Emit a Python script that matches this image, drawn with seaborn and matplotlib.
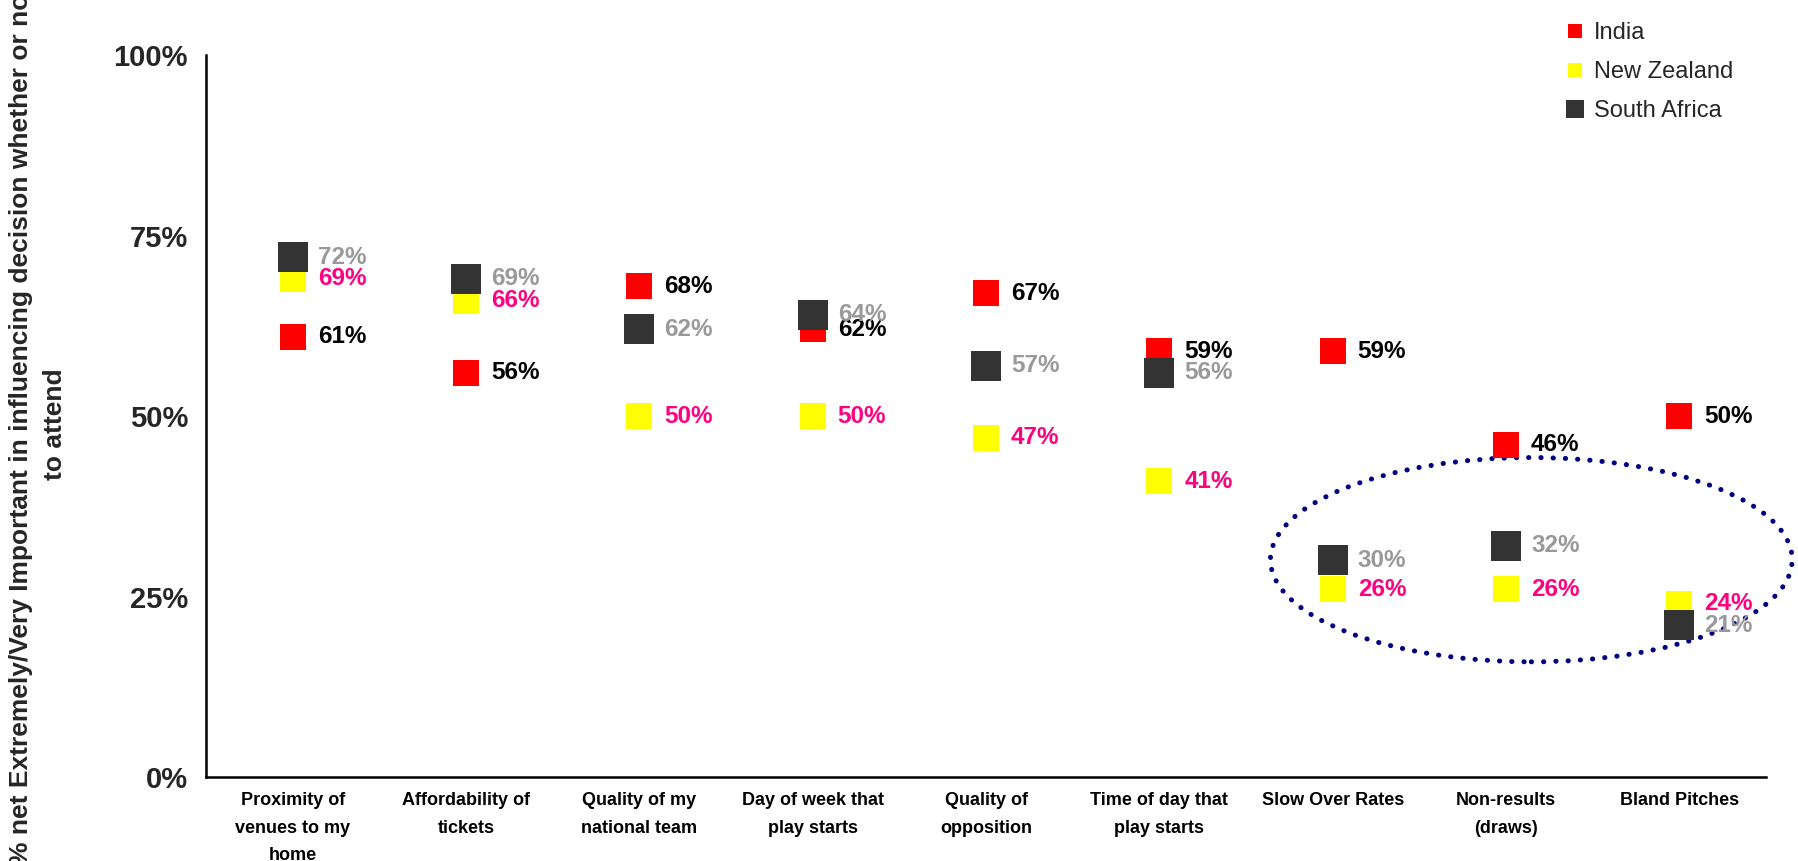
import matplotlib
matplotlib.use("Agg")
import matplotlib.pyplot as plt
from matplotlib.patches import Ellipse
from matplotlib.lines import Line2D
import seaborn as sns
import pandas as pd

categories = [
    "Proximity of\nvenues to my\nhome",
    "Affordability of\ntickets",
    "Quality of my\nnational team",
    "Day of week that\nplay starts",
    "Quality of\nopposition",
    "Time of day that\nplay starts",
    "Slow Over Rates",
    "Non-results\n(draws)",
    "Bland Pitches",
]
india = [61, 56, 68, 62, 67, 59, 59, 46, 50]
new_zealand = [69, 66, 50, 50, 47, 41, 26, 26, 24]
south_africa = [72, 69, 62, 64, 57, 56, 30, 32, 21]
y_ticks = [0, 25, 50, 75, 100]
y_title = "% net Extremely/Very Important in influencing decision whether or not\nto attend"

series = [
    ("India", india, "#FF0000", "#000000", 19),
    ("New Zealand", new_zealand, "#FFFF00", "#FF0080", 19),
    ("South Africa", south_africa, "#333333", "#999999", 21.5),
]

sns.set_theme(style="white")
plt.rcParams["font.family"] = ["Liberation Sans", "DejaVu Sans"]

fig = plt.figure(figsize=(17.98, 8.61), dpi=100)
ax = fig.add_axes([0.1146, 0.0976, 0.9822 - 0.1146, 0.936 - 0.0976])

idx = list(range(len(categories)))
for name, vals, color, lab_color, size in series:
    df = pd.DataFrame({"x": idx, "y": vals})
    sns.scatterplot(data=df, x="x", y="y", ax=ax, marker="s", s=size ** 2,
                    color=color, linewidth=0, zorder=3, legend=False)
    for xi, v in zip(idx, vals):
        ax.annotate(f"{v}%", (xi, v), xytext=(18, 0), textcoords="offset points",
                    ha="left", va="center", fontsize=17.5, fontweight="bold",
                    color=lab_color, zorder=4)

# Dotted ring around the lower-scoring items
ring = Ellipse((7.146, 30.1), width=3.01, height=28.3, fill=False,
               edgecolor="#000080", linewidth=3.6, linestyle=(0, (0.05, 2.4)),
               capstyle="round", clip_on=False, zorder=2)
ax.add_patch(ring)

ax.set_xlim(-0.5, len(categories) - 0.5)
ax.set_ylim(0, 100)
ax.set_yticks(y_ticks)
ax.set_yticklabels([f"{t}%" for t in y_ticks], fontsize=21, fontweight="bold")
ax.set_xticks(idx)
ax.set_xticklabels(categories, fontsize=13, fontweight="bold", linespacing=1.8,
                   va="top")
ax.set_xticks([i - 0.5 for i in range(len(categories) + 1)], minor=True)
ax.tick_params(axis="x", which="major", length=0, pad=11, colors="#000000")
ax.tick_params(axis="x", which="minor", length=6, width=1.5, color="#000000",
               direction="out")
ax.tick_params(axis="y", which="major", length=8, width=1.5, color="#000000",
               direction="out", pad=5)
ax.set_xlabel("")
ax.set_ylabel("")
for side in ("top", "right"):
    ax.spines[side].set_visible(False)
for side in ("left", "bottom"):
    ax.spines[side].set_color("#000000")
    ax.spines[side].set_linewidth(1.8)

fig.text(0.021, 0.507, y_title, rotation=90, ha="center", va="center",
         multialignment="center", fontsize=19, fontweight="bold",
         linespacing=1.55,
         family=["Liberation Sans Narrow", "Liberation Sans", "DejaVu Sans"])

handles = [
    Line2D([], [], marker="s", linestyle="none", color=c, markeredgewidth=0,
           markersize=(9.5 if n != "South Africa" else 12.5), label=n)
    for n, _, c, _, _ in series
]
fig.legend(handles=handles, loc="upper left", bbox_to_anchor=(0.866, 0.985),
           frameon=False, fontsize=17, handlelength=0.7, handletextpad=0.45,
           labelspacing=0.72, borderaxespad=0)

fig.savefig("out.png", dpi=100, facecolor="white")
